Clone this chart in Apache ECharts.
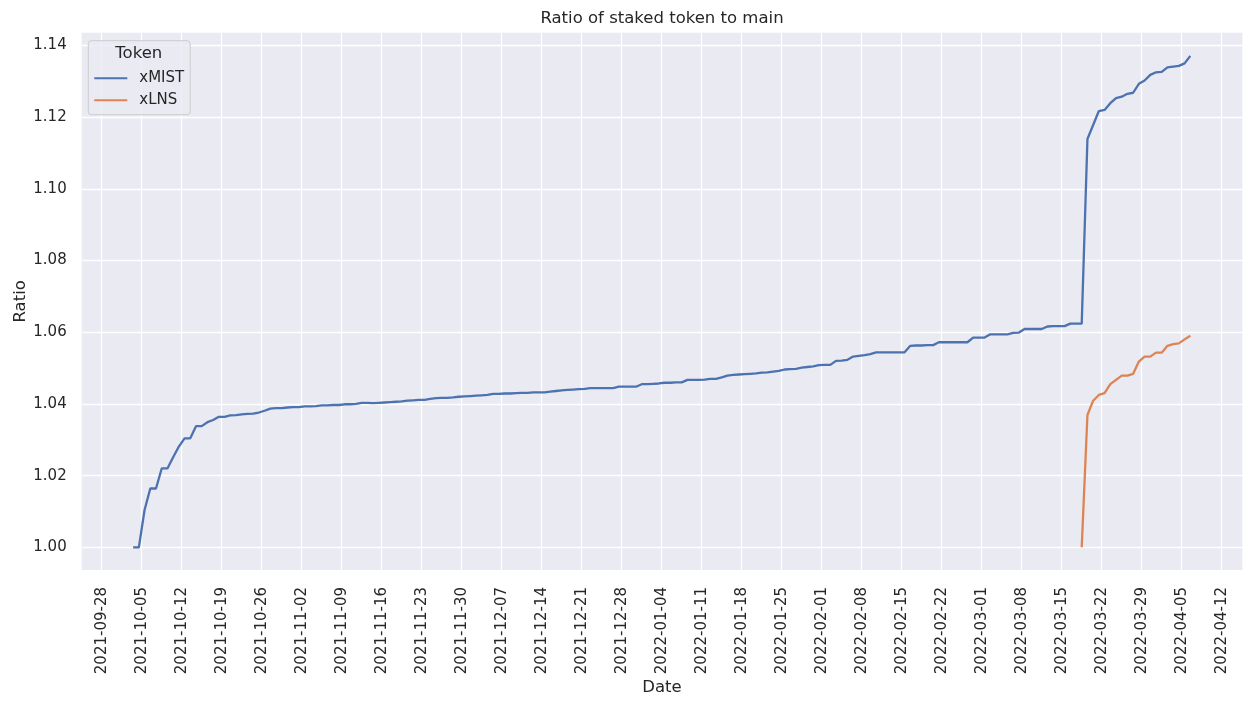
<!DOCTYPE html>
<html>
<head>
<meta charset="utf-8">
<title>Ratio of staked token to main</title>
<script src="https://cdn.jsdelivr.net/npm/echarts@6/dist/echarts.min.js"></script>
<style>
  html, body { margin: 0; padding: 0; background: #fff; }
  #chart { width: 1253px; height: 706px; }
</style>
</head>
<body>
<div id="chart"></div>
<script>
// daily values (one point per day, at noon UTC)
const xmistStart = '2021-10-03T12:00:00Z';
const xmistValues = [
  1.0000, 1.0000, 1.0104, 1.0164, 1.0164, 1.0220, 1.0220, 1.0251, 1.0281, 1.0304,
  1.0304, 1.0338, 1.0338, 1.0349, 1.0355, 1.0364, 1.0364, 1.0368, 1.0369, 1.0371,
  1.0372, 1.0373, 1.0376, 1.0381, 1.0387, 1.0388, 1.0388, 1.0390, 1.0391, 1.0391,
  1.0393, 1.0393, 1.0394, 1.0396, 1.0396, 1.0397, 1.0397, 1.0399, 1.0399, 1.0400,
  1.0403, 1.0403, 1.0402, 1.0403, 1.0404, 1.0405, 1.0406, 1.0407, 1.0409, 1.0410,
  1.0411, 1.0411, 1.0414, 1.0416, 1.0417, 1.0417, 1.0418, 1.0420, 1.0421, 1.0422,
  1.0423, 1.0424, 1.0425, 1.0428, 1.0428, 1.0429, 1.0429, 1.0430, 1.0431, 1.0431,
  1.0432, 1.0432, 1.0432, 1.0434, 1.0436, 1.0438, 1.0439, 1.0440, 1.0441, 1.0442,
  1.0444, 1.0444, 1.0444, 1.0444, 1.0444, 1.0448, 1.0448, 1.0448, 1.0448, 1.0455,
  1.0455, 1.0456, 1.0457, 1.0459, 1.0459, 1.0460, 1.0460, 1.0467, 1.0467, 1.0467,
  1.0468, 1.0470, 1.0470, 1.0474, 1.0479, 1.0481, 1.0482, 1.0483, 1.0484, 1.0485,
  1.0487, 1.0488, 1.0490, 1.0492, 1.0496, 1.0497, 1.0498, 1.0501, 1.0503, 1.0505,
  1.0508, 1.0509, 1.0509, 1.0520, 1.0521, 1.0523, 1.0532, 1.0534, 1.0536, 1.0539,
  1.0544, 1.0544, 1.0544, 1.0544, 1.0544, 1.0544, 1.0562, 1.0563, 1.0563, 1.0564,
  1.0564, 1.0572, 1.0572, 1.0572, 1.0572, 1.0572, 1.0572, 1.0585, 1.0585, 1.0585,
  1.0594, 1.0594, 1.0594, 1.0594, 1.0598, 1.0599, 1.0609, 1.0609, 1.0609, 1.0609,
  1.0616, 1.0617, 1.0617, 1.0617, 1.0624, 1.0624, 1.0624, 1.1139, 1.1178, 1.1217,
  1.1220, 1.1239, 1.1253, 1.1257, 1.1265, 1.1268, 1.1293, 1.1302, 1.1318, 1.1325,
  1.1326, 1.1339, 1.1341, 1.1343, 1.1350, 1.1371
];

const xlnsStart = '2022-03-18T12:00:00Z';
const xlnsValues = [
  1.0000, 1.0369, 1.0409, 1.0425, 1.0430, 1.0455, 1.0467, 1.0479, 1.0479, 1.0484,
  1.0518, 1.0532, 1.0532, 1.0543, 1.0543, 1.0562, 1.0567, 1.0569, 1.0580, 1.0590
];

const xTickDates = [
  '2021-09-28', '2021-10-05', '2021-10-12', '2021-10-19', '2021-10-26',
  '2021-11-02', '2021-11-09', '2021-11-16', '2021-11-23', '2021-11-30',
  '2021-12-07', '2021-12-14', '2021-12-21', '2021-12-28', '2022-01-04',
  '2022-01-11', '2022-01-18', '2022-01-25', '2022-02-01', '2022-02-08',
  '2022-02-15', '2022-02-22', '2022-03-01', '2022-03-08', '2022-03-15',
  '2022-03-22', '2022-03-29', '2022-04-05', '2022-04-12'
];
const yTicks = [1.00, 1.02, 1.04, 1.06, 1.08, 1.10, 1.12, 1.14];

const DAY = 24 * 3600 * 1000;
const FONT = 'DejaVu Sans';
const TEXT = '#262626';

function toPairs(start, values) {
  const t0 = Date.parse(start);
  return values.map((v, i) => [t0 + i * DAY, v]);
}

function fmtDate(ms) {
  const d = new Date(ms);
  const mm = String(d.getUTCMonth() + 1).padStart(2, '0');
  const dd = String(d.getUTCDate()).padStart(2, '0');
  return d.getUTCFullYear() + '-' + mm + '-' + dd;
}

const xTicks = xTickDates.map(s => Date.parse(s + 'T00:00:00Z'));
const firstTick = xTicks[0];

const myChart = echarts.init(document.getElementById('chart'));

const option = {
  animation: false,
  backgroundColor: '#ffffff',
  title: {
    text: 'Ratio of staked token to main',
    left: 662,
    top: 10,
    padding: 0,
    textAlign: 'center',
    textStyle: { fontFamily: FONT, fontSize: 16.5, fontWeight: 'normal', color: TEXT }
  },
  legend: {
    orient: 'vertical',
    left: 88.3,
    top: 40.7,
    padding: [30, 6, 7, 5],
    itemWidth: 33,
    itemHeight: 15,
    itemGap: 7,
    backgroundColor: 'rgba(234,234,242,0.8)',
    borderColor: '#cccccc',
    borderWidth: 1,
    borderRadius: 3,
    itemStyle: { color: 'rgba(0,0,0,0)', borderWidth: 0, opacity: 0 },
    textStyle: { fontFamily: FONT, fontSize: 15, color: TEXT, padding: [0, 0, 0, 7] },
    data: ['xMIST', 'xLNS']
  },
  graphic: [{
    type: 'text',
    z: 100,
    style: {
      x: 138.8,
      y: 54,
      text: 'Token',
      align: 'center',
      verticalAlign: 'middle',
      font: '16.5px "DejaVu Sans"',
      fill: TEXT
    }
  }],
  grid: {
    left: 81.7,
    right: 10.7,
    top: 32.7,
    bottom: 136,
    show: true,
    backgroundColor: '#EAEAF2',
    borderWidth: 0,
    containLabel: false,
    outerBoundsMode: 'none'
  },
  xAxis: {
    type: 'value',
    min: firstTick - 3.5 * DAY,
    max: firstTick + 199.6 * DAY,
    name: 'Date',
    nameLocation: 'middle',
    nameGap: 109,
    nameMoveOverlap: false,
    nameTextStyle: { fontFamily: FONT, fontSize: 16.5, color: TEXT },
    axisLine: { show: false },
    axisTick: { show: false, customValues: xTicks },
    axisLabel: {
      customValues: xTicks,
      rotate: 90,
      margin: 17,
      fontFamily: FONT,
      fontSize: 15,
      color: TEXT,
      formatter: v => fmtDate(v)
    },
    splitLine: { show: true, lineStyle: { color: '#ffffff', width: 1.3 } }
  },
  yAxis: {
    type: 'value',
    min: 0.99367,
    max: 1.14355,
    name: 'Ratio',
    nameLocation: 'middle',
    nameGap: 52,
    nameMoveOverlap: false,
    nameTextStyle: { fontFamily: FONT, fontSize: 16.5, color: TEXT },
    axisLine: { show: false },
    axisTick: { show: false, customValues: yTicks },
    axisLabel: {
      customValues: yTicks,
      margin: 15,
      fontFamily: FONT,
      fontSize: 15,
      color: TEXT,
      formatter: v => v.toFixed(2)
    },
    splitLine: { show: true, lineStyle: { color: '#ffffff', width: 1.3 } }
  },
  series: [
    {
      name: 'xMIST',
      type: 'line',
      symbol: 'none',
      color: '#4C72B0',
      lineStyle: { color: '#4C72B0', width: 2.3 },
      data: toPairs(xmistStart, xmistValues)
    },
    {
      name: 'xLNS',
      type: 'line',
      symbol: 'none',
      color: '#DD8452',
      lineStyle: { color: '#DD8452', width: 2.3 },
      data: toPairs(xlnsStart, xlnsValues)
    }
  ]
};

myChart.setOption(option);
</script>
</body>
</html>
